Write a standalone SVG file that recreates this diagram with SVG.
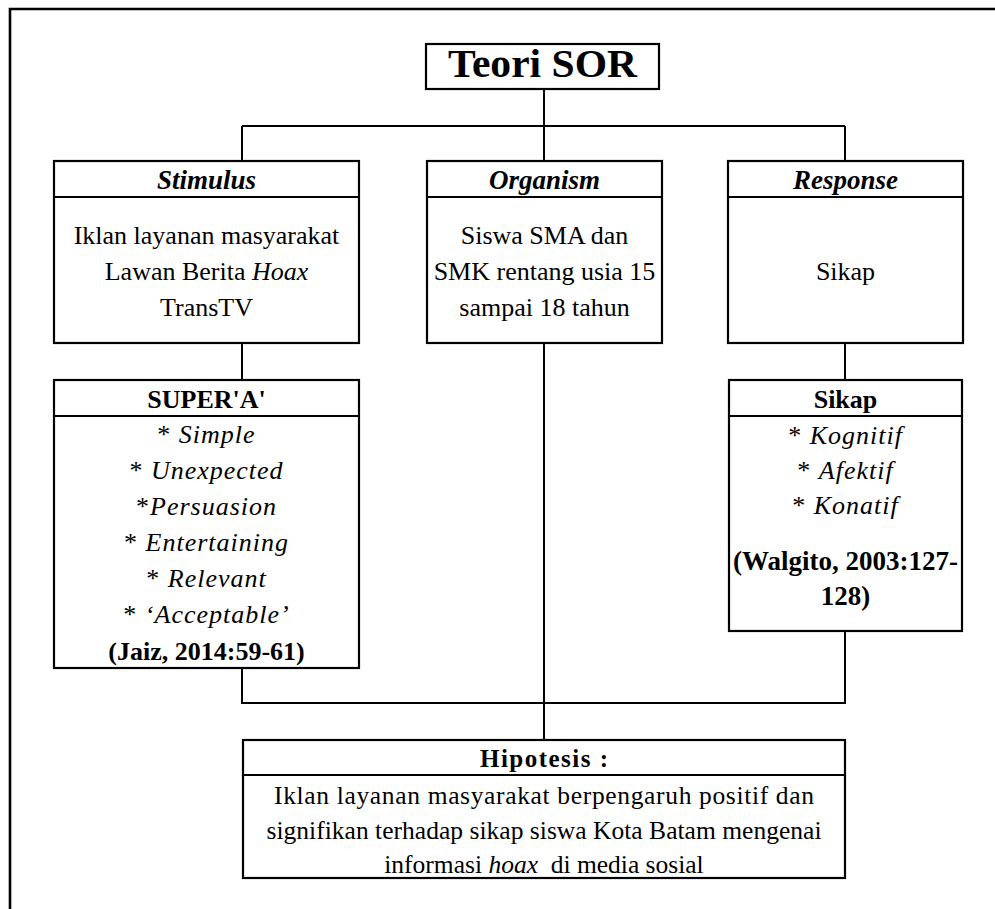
<svg xmlns="http://www.w3.org/2000/svg" width="995" height="909" viewBox="0 0 995 909">
<style>
.box{fill:#fff;stroke:#000;stroke-width:2.2}
.div{stroke:#000;stroke-width:2}
.conn{stroke:#000;stroke-width:2;fill:none}
.frame{stroke:#000;stroke-width:2.6;fill:none}
text{font-family:"Liberation Serif","Times New Roman",serif;fill:#000;text-anchor:middle}
.t{font-size:26px}
.ti{font-size:26px;letter-spacing:1px}
.b{font-size:26px;font-weight:bold}
.bi{font-size:27px;font-weight:bold;font-style:italic}
.i{font-style:italic}
.h{font-size:25.5px}
</style>
<rect width="995" height="909" fill="#fff"/>
<path class="frame" d="M10,909 V9 H995"/>

<g id="connectors">
<path class="conn" d="M544,89 V126"/>
<path class="conn" d="M242,126 H845"/>
<path class="conn" d="M242,126 V161"/>
<path class="conn" d="M544,126 V161"/>
<path class="conn" d="M845,126 V161"/>
<path class="conn" d="M242,343 V380"/>
<path class="conn" d="M845,343 V380"/>
<path class="conn" d="M242,668 V703 H845 V631"/>
<path class="conn" d="M544,343 V740"/>
</g>

<g id="teori-sor">
<rect class="box" x="426" y="44" width="233" height="45"/>
<text x="542.5" y="77" textLength="189" lengthAdjust="spacingAndGlyphs" style="font-size:39px;font-weight:bold">Teori SOR</text>
</g>

<g id="stimulus">
<rect class="box" x="54" y="161" width="305" height="182"/>
<line class="div" x1="54" y1="197" x2="359" y2="197"/>
<text class="bi" x="206.5" y="189">Stimulus</text>
<text class="t" x="206.5" y="244">Iklan layanan masyarakat</text>
<text class="t" x="206.5" y="280">Lawan Berita <tspan class="i">Hoax</tspan></text>
<text class="t" x="206.5" y="316">TransTV</text>
</g>

<g id="organism">
<rect class="box" x="427" y="161" width="235" height="182"/>
<line class="div" x1="427" y1="197" x2="662" y2="197"/>
<text class="bi" x="544.5" y="189">Organism</text>
<text class="t" x="544.5" y="244">Siswa SMA dan</text>
<text class="t" x="544.5" y="280">SMK rentang usia 15</text>
<text class="t" x="544.5" y="316">sampai 18 tahun</text>
</g>

<g id="response">
<rect class="box" x="728" y="161" width="235" height="182"/>
<line class="div" x1="728" y1="197" x2="963" y2="197"/>
<text class="bi" x="845.5" y="189">Response</text>
<text class="t" x="845.5" y="280">Sikap</text>
</g>

<g id="super-a">
<rect class="box" x="54" y="380" width="305" height="288"/>
<line class="div" x1="54" y1="416" x2="359" y2="416"/>
<text class="b" x="206.5" y="408">SUPER'A'</text>
<text class="ti" x="206.5" y="443">* <tspan class="i">Simple</tspan></text>
<text class="ti" x="206.5" y="479">* <tspan class="i">Unexpected</tspan></text>
<text class="ti" x="206.5" y="515">*<tspan class="i">Persuasion</tspan></text>
<text class="ti" x="206.5" y="551">* <tspan class="i">Entertaining</tspan></text>
<text class="ti" x="206.5" y="587">* <tspan class="i">Relevant</tspan></text>
<text class="ti" x="206.5" y="623">* <tspan class="i">‘Acceptable’</tspan></text>
<text class="b" x="206.5" y="660">(Jaiz, 2014:59-61)</text>
</g>

<g id="sikap">
<rect class="box" x="729" y="380" width="233" height="251"/>
<line class="div" x1="729" y1="416" x2="962" y2="416"/>
<text class="b" x="845.5" y="408">Sikap</text>
<text class="ti" x="845.5" y="444">* <tspan class="i">Kognitif</tspan></text>
<text class="ti" x="845.5" y="479">* <tspan class="i">Afektif</tspan></text>
<text class="ti" x="845.5" y="514">* <tspan class="i">Konatif</tspan></text>
<text class="b" x="845.5" y="570" style="font-size:27px">(Walgito, 2003:127-</text>
<text class="b" x="845.5" y="605" style="font-size:27px">128)</text>
</g>

<g id="hipotesis">
<rect class="box" x="243" y="740" width="602" height="138"/>
<line class="div" x1="243" y1="775" x2="845" y2="775"/>
<text x="544" y="767" textLength="128" style="font-size:25px;font-weight:bold">Hipotesis :</text>
<text class="h" x="544" y="804" textLength="540">Iklan layanan masyarakat berpengaruh positif dan</text>
<text class="h" x="544" y="839" textLength="555">signifikan terhadap sikap siswa Kota Batam mengenai</text>
<text class="h" x="544" y="873" xml:space="preserve">informasi <tspan class="i">hoax</tspan>  di media sosial</text>
</g>
</svg>
